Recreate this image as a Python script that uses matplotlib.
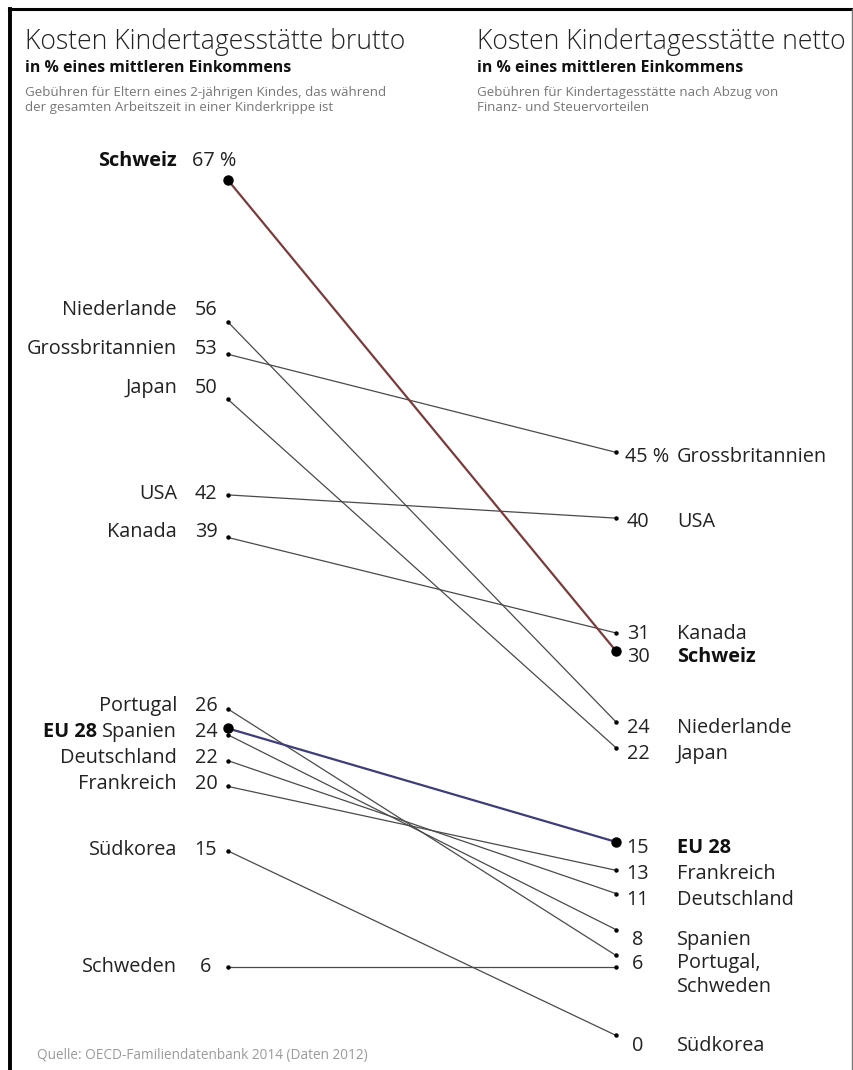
import matplotlib.pyplot as plt
from matplotlib.lines import Line2D
from matplotlib import transforms

# data: childcare cost in % of average income (brutto left, netto right)
countries = ['Schweiz', 'Niederlande', 'Grossbritannien', 'Japan', 'USA', 'Kanada',
             'Portugal', 'EU 28', 'Spanien', 'Deutschland', 'Frankreich', 'Südkorea', 'Schweden']
brutto = [66.5, 55.5, 53.0, 49.5, 42.1, 38.8, 25.5, 24.0, 23.5, 21.5, 19.5, 14.5, 5.5]
netto = [30.0, 24.5, 45.4, 22.5, 40.3, 31.4, 6.4, 15.2, 8.4, 11.2, 13.0, 0.2, 5.5]

# labels as printed
left_names = ['Schweiz', 'Niederlande', 'Grossbritannien', 'Japan', 'USA', 'Kanada',
              'Portugal', 'EU 28 Spanien', 'Deutschland', 'Frankreich', 'Südkorea', 'Schweden']
left_nums = ['67 %', '56', '53', '50', '42', '39', '26', '24', '22', '20', '15', '6']
left_at = [67, 56, 53, 50, 42, 39, 26, 24, 22, 20, 15, 6]
right_names = ['Grossbritannien', 'USA', 'Kanada', 'Schweiz', 'Niederlande', 'Japan',
               'EU 28', 'Frankreich', 'Deutschland', 'Spanien', 'Portugal,\nSchweden', 'Südkorea']
right_nums = ['45 %', '40', '31', '30', '24', '22', '15', '13', '11', '8', '6', '0']
right_at = [45, 40, 31, 30, 24, 22, 15, 13, 11, 8, 6, 0]

highlight = {'Schweiz': '#7a3b3b', 'EU 28': '#3d3d7a'}
FONT = 'Open Sans'
FS = 14.3

W, H = 854, 1070
fig = plt.figure(figsize=(W / 100, H / 100), dpi=100)

# axes: x=0 at pixel 228, x=1 at pixel 616; value 0 at pixel 1038, 12.9 px per unit
x0, x1 = 228, 616
y0, k = 1038, 12.9
ax = fig.add_axes([x0 / W, (H - y0) / H, (x1 - x0) / W, 70 * k / H])
ax.set_xlim(0, 1)
ax.set_ylim(0, 70)
ax.axis('off')

for c, b, n in zip(countries, brutto, netto):
    if c in highlight:
        ax.plot([0, 1], [b, n], color=highlight[c], lw=1.6, zorder=3)
        ax.plot([0, 1], [b, n], 'o', color='black', ms=6.5, zorder=4, clip_on=False)
    else:
        ax.plot([0, 1], [b, n], color='#4a4a4a', lw=0.9, zorder=2)
        ax.plot([0, 1], [b, n], 'o', color='black', ms=2.2, zorder=4, clip_on=False)

def px(x):
    return (x - x0) / (x1 - x0)

txt = dict(fontsize=FS, family=FONT, color='#222222', clip_on=False, va='center')

# left labels
left_nudge = {'Schweiz': 1.0, 'Niederlande': 0.4, 'Grossbritannien': 0.4, 'Japan': 0.4,
              'USA': 0.2, 'Kanada': 0.2, 'Portugal': -0.3, 'EU 28 Spanien': -0.3,
              'Deutschland': -0.3, 'Frankreich': -0.3, 'Südkorea': -0.4, 'Schweden': -0.5}
for name, num, v in zip(left_names, left_nums, left_at):
    y = v + left_nudge[name]
    if name.startswith('EU 28'):
        ax.text(px(177), y, 'Spanien', ha='right', **txt)
        ax.text(px(97), y, 'EU 28', ha='right', weight='bold',
                **{**txt, 'color': '#111111'})
    else:
        bold = name == 'Schweiz'
        ax.text(px(177), y, name, ha='right', weight='bold' if bold else 'normal',
                **{**txt, 'color': '#111111' if bold else '#222222'})
    if '%' in num:
        ax.text(px(192), y, num, ha='left', **txt)
    else:
        ax.text(px(206), y, num, ha='center', **txt)

# right labels
nudge = {'Kanada': 0.3, 'Schweiz': -0.5, 'Spanien': -0.4, 'Portugal,\nSchweden': -0.3,
         'EU 28': -0.3, 'Frankreich': -0.3, 'Deutschland': -0.3, 'Südkorea': -0.6}
for name, num, v in zip(right_names, right_nums, right_at):
    y = v + nudge.get(name, 0)
    bold = name in ('Schweiz', 'EU 28')
    if '\n' in name:
        shift = ax.transData + transforms.ScaledTranslation(0, 0.115, fig.dpi_scale_trans)
        ax.text(px(677), y, name, ha='left', linespacing=1.25, transform=shift,
                **{**txt, 'va': 'top'})
    else:
        ax.text(px(677), y, name, ha='left', weight='bold' if bold else 'normal',
                **{**txt, 'color': '#111111' if bold else '#222222'})
    if '%' in num:
        ax.text(px(625), y, num, ha='left', **txt)
    else:
        ax.text(px(638), y, num, ha='center', **txt)

# headings
def ft(x, y, s, **kw):
    fig.text(x / W, 1 - y / H, s, **kw)

for xs, title, desc in [
        (25, 'Kosten Kindertagesstätte brutto',
         'Gebühren für Eltern eines 2-jährigen Kindes, das während\n'
         'der gesamten Arbeitszeit in einer Kinderkrippe ist'),
        (477, 'Kosten Kindertagesstätte netto',
         'Gebühren für Kindertagesstätte nach Abzug von\nFinanz- und Steuervorteilen')]:
    ft(xs, 42, title, family=FONT, weight='light', fontsize=19.1, color='#222222',
       va='center', ha='left')
    ft(xs, 68, 'in % eines mittleren Einkommens', family=FONT, weight='bold',
       fontsize=11.4, color='#111111', va='center', ha='left')
    ft(xs, 100, desc, family=FONT, fontsize=9.6, color='#777777', va='center',
       ha='left', linespacing=1.2)

ft(37, 1055, 'Quelle: OECD-Familiendatenbank 2014 (Daten 2012)', family=FONT,
   fontsize=9.8, color='#9a9a9a', va='center', ha='left')

# frame
fig.add_artist(Line2D([10 / W, 10 / W], [0, 1 - 9 / H], color='black', lw=2.8,
                      transform=fig.transFigure))
fig.add_artist(Line2D([9 / W, 852 / W], [1 - 9 / H, 1 - 9 / H], color='black', lw=2.2,
                      transform=fig.transFigure))
fig.add_artist(Line2D([852 / W, 852 / W], [0, 1 - 9 / H], color='#777777', lw=1.0,
                      transform=fig.transFigure))

fig.savefig('out.png', dpi=100, facecolor='white')
